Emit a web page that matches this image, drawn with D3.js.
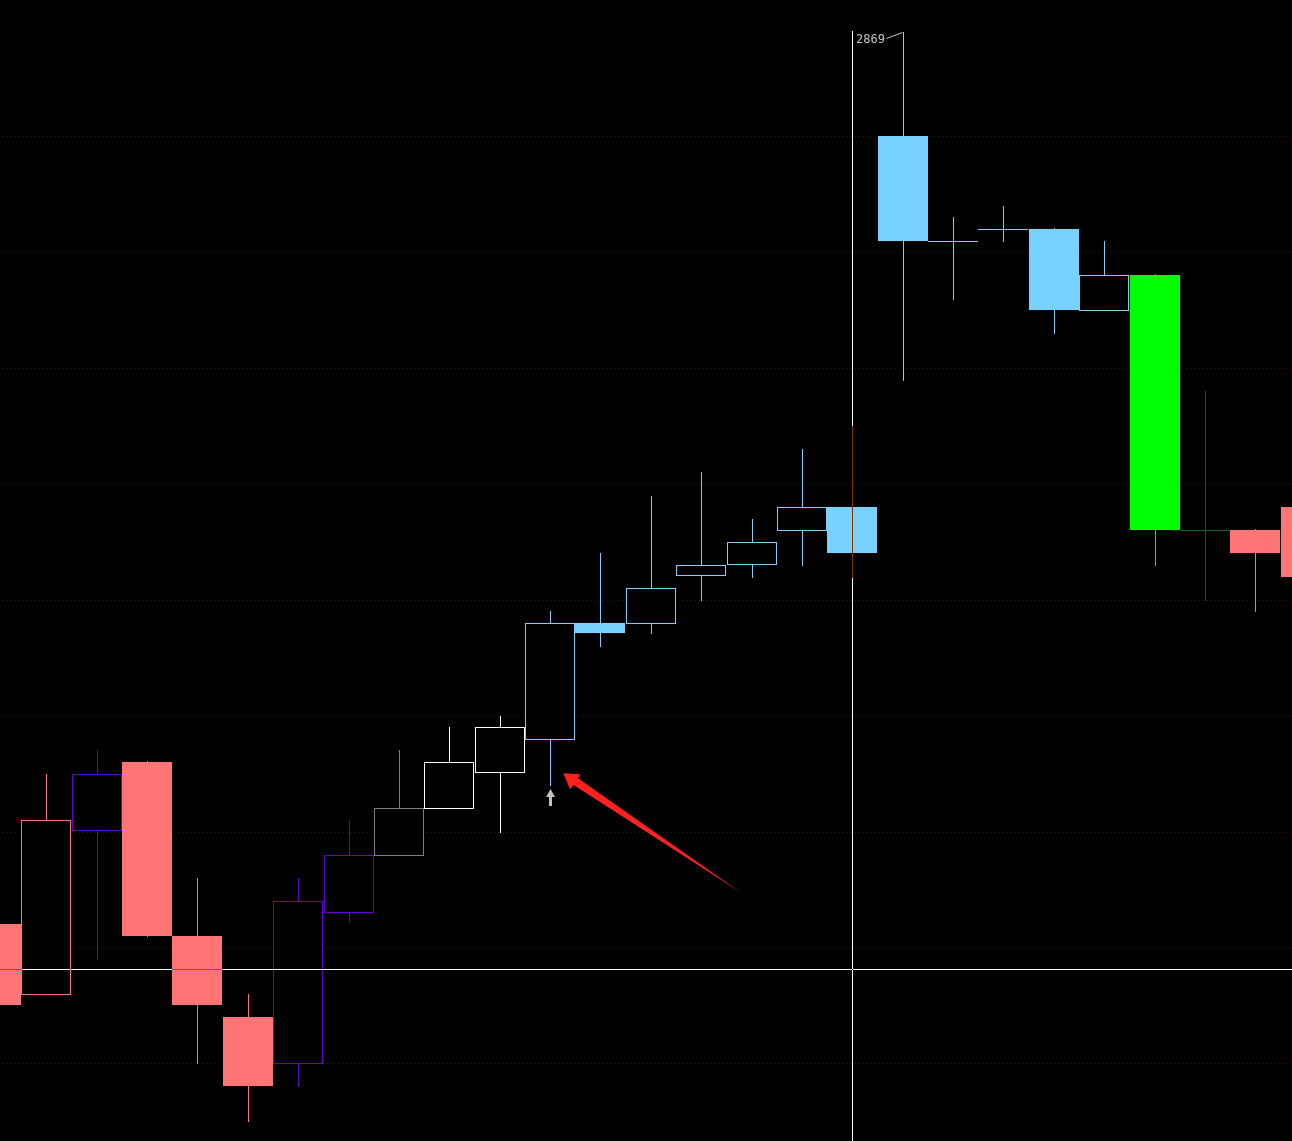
<!DOCTYPE html>
<html>
<head>
<meta charset="utf-8">
<script src="https://cdn.jsdelivr.net/npm/d3@7"></script>
<style>
html,body{margin:0;padding:0;background:#000;overflow:hidden}
svg{display:block}
</style>
</head>
<body>
<svg id="chart"></svg>
<script>
// ---------------- DATA ----------------
const opens  = [2792.0, 2786.0, 2800.1, 2806.0, 2791.0, 2784.0, 2780.0, 2793.1, 2798.0, 2802.0, 2805.1, 2808.0, 2818.0, 2818.0, 2822.1, 2823.1, 2826.0, 2828.0, 2860.0, 2851.0, 2852.0, 2852.0, 2845.0, 2848.0, 2826.0, 2826.0, 2828.0];
const highs  = [2794.0, 2805.0, 2807.0, 2806.1, 2796.0, 2786.0, 2796.0, 2801.0, 2807.0, 2809.0, 2810.0, 2819.0, 2824.0, 2829.0, 2831.0, 2827.0, 2833.0, 2835.0, 2869.0, 2853.0, 2854.0, 2852.1, 2851.0, 2848.1, 2838.0, 2826.1, 2829.0];
const lows   = [2783.0, 2786.0, 2789.0, 2791.0, 2780.0, 2775.0, 2778.0, 2792.2, 2798.0, 2802.0, 2800.0, 2804.0, 2816.0, 2817.1, 2820.0, 2822.0, 2823.0, 2822.0, 2839.0, 2846.0, 2851.0, 2843.0, 2845.0, 2823.0, 2820.0, 2819.0, 2821.0];
const closes = [2785.0, 2801.0, 2805.0, 2791.0, 2785.0, 2778.0, 2794.0, 2798.0, 2802.0, 2806.0, 2809.0, 2818.0, 2817.1, 2821.0, 2823.0, 2825.0, 2828.0, 2824.0, 2851.0, 2851.0, 2852.0, 2845.0, 2848.0, 2826.0, 2826.0, 2824.0, 2822.0];
// indicator state of every bar (drives colour)
const states = [0, 0, 1, 0, 0, 0, 1, 1, 2, 3, 3, 4, 4, 4, 4, 4, 4, 4, 4, 4, 4, 4, 4, 5, 6, 0, 0];
const gridLevels = [2860, 2850, 2840, 2830, 2820, 2810, 2800, 2790, 2780];
const cursorIndex = 17;
const cursorPrice = 2788.1;
const markedIndex = 11;

// ---------------- SETUP ----------------
const W = 1292, H = 1141;
const svg = d3.select("#chart").attr("width", W).attr("height", H).style("isolation", "isolate");
svg.append("rect").attr("width", W).attr("height", H).attr("fill", "#000");

const stateColor = d3.scaleOrdinal()
  .domain([0, 1, 2, 3, 4, 5, 6])
  .range(["#FF7575", "#6600CC", "#808080", "#FFFFFF", "#78D2FF", "#00FF00", "#006A00"]);

const step = 50.375, first = -4.07;
const x = d3.scaleBand()
  .domain(d3.range(opens.length))
  .range([first - step / 2, first - step / 2 + step * opens.length])
  .paddingInner(0).paddingOuter(0);
const cx = i => Math.round(x(i) + x.bandwidth() / 2);

const y = d3.scaleLinear().domain([2860, 2780]).range([136.3, 1063.3]);

// ---------------- GRID ----------------
svg.append("g")
  .call(d3.axisLeft(y).tickValues(gridLevels).tickSize(-W).tickFormat(""))
  .call(g => g.select(".domain").remove())
  .call(g => g.selectAll(".tick line")
    .attr("x1", 3)
    .attr("stroke", "#560000")
    .attr("stroke-dasharray", "1,3")
    .attr("shape-rendering", "crispEdges"));

// ---------------- CANDLES ----------------
const idx = d3.range(opens.length);
const gC = svg.append("g").attr("shape-rendering", "crispEdges");

// wicks
gC.selectAll("line.wick").data(idx).join("line")
  .attr("class", "wick")
  .attr("x1", i => cx(i) + 0.5).attr("x2", i => cx(i) + 0.5)
  .attr("y1", i => Math.round(y(highs[i])))
  .attr("y2", i => Math.round(y(lows[i])) + 1)
  .attr("stroke", i => stateColor(states[i]))
  .attr("stroke-width", 1);

// filled (falling) bodies
const down = idx.filter(i => closes[i] < opens[i]);
gC.selectAll("rect.down").data(down).join("rect")
  .attr("class", "down")
  .attr("x", i => cx(i) - 25)
  .attr("width", 50)
  .attr("y", i => Math.round(y(opens[i])))
  .attr("height", i => Math.max(1, Math.round(y(closes[i])) - Math.round(y(opens[i]))))
  .attr("fill", i => stateColor(states[i]));

// hollow (rising) bodies
const up = idx.filter(i => closes[i] > opens[i]);
gC.selectAll("rect.up").data(up).join("rect")
  .attr("class", "up")
  .attr("x", i => cx(i) - 25 + 0.5)
  .attr("width", 49)
  .attr("y", i => Math.round(y(closes[i])) + 0.5)
  .attr("height", i => Math.max(1, Math.round(y(opens[i])) - Math.round(y(closes[i]))))
  .attr("fill", "#000")
  .attr("stroke", i => stateColor(states[i]))
  .attr("stroke-width", 1);

// doji bars
const flat = idx.filter(i => closes[i] === opens[i]);
gC.selectAll("line.doji").data(flat).join("line")
  .attr("class", "doji")
  .attr("x1", i => cx(i) - 25).attr("x2", i => cx(i) + 25)
  .attr("y1", i => Math.round(y(opens[i])) + 0.5)
  .attr("y2", i => Math.round(y(opens[i])) + 0.5)
  .attr("stroke", i => stateColor(states[i]))
  .attr("stroke-width", 1);

// ---------------- HIGH LABEL ----------------
const hiIdx = d3.maxIndex(highs);
const hx = cx(hiIdx) + 0.5, hy = Math.round(y(highs[hiIdx]));
svg.append("text")
  .attr("x", hx - 47.5).attr("y", hy + 11)
  .attr("font-family", "DejaVu Sans Mono, monospace")
  .attr("font-size", 12)
  .attr("fill", "#C8C8C8")
  .text(d3.format("d")(highs[hiIdx]));
svg.append("line")
  .attr("x1", hx - 17).attr("y1", hy + 6.5)
  .attr("x2", hx - 1).attr("y2", hy + 0.5)
  .attr("stroke", "#C8C8C8").attr("stroke-width", 1);

// ---------------- CROSSHAIR ----------------
const gX = svg.append("g").attr("shape-rendering", "crispEdges");
gX.append("line")
  .attr("x1", cx(cursorIndex) + 0.5).attr("x2", cx(cursorIndex) + 0.5)
  .attr("y1", 31).attr("y2", H)
  .attr("stroke", "#FFFFFF").attr("stroke-width", 1)
  .style("mix-blend-mode", "difference");
gX.append("line")
  .attr("x1", 0).attr("x2", W)
  .attr("y1", Math.round(y(cursorPrice)) + 0.5).attr("y2", Math.round(y(cursorPrice)) + 0.5)
  .attr("stroke", "#FFFFFF").attr("stroke-width", 1)
  .style("mix-blend-mode", "difference");

// ---------------- ANNOTATIONS ----------------
const mx = cx(markedIndex), my = y(lows[markedIndex]);
// small grey up arrow under the marked low
const gx0 = mx + 0.5, gy0 = Math.round(my) + 4;
svg.append("path")
  .attr("d", `M${gx0},${gy0} L${gx0 + 4.5},${gy0 + 8} L${gx0 + 1.5},${gy0 + 8} L${gx0 + 1.5},${gy0 + 17} L${gx0 - 1.5},${gy0 + 17} L${gx0 - 1.5},${gy0 + 8} L${gx0 - 4.5},${gy0 + 8} Z`)
  .attr("fill", "#C0C0C0");

// red pointer arrow
const tx = mx + 13.3, ty = my - 12;
const pts = [[0, 0], [17, 1], [14.7, 5.1], [177.4, 119.4], [10.3, 11.7], [6.7, 16], [0, 0]];
svg.append("path")
  .attr("d", d3.line()(pts.map(p => [tx + p[0], ty + p[1]])) + "Z")
  .attr("fill", "#FF2020");
</script>
</body>
</html>
